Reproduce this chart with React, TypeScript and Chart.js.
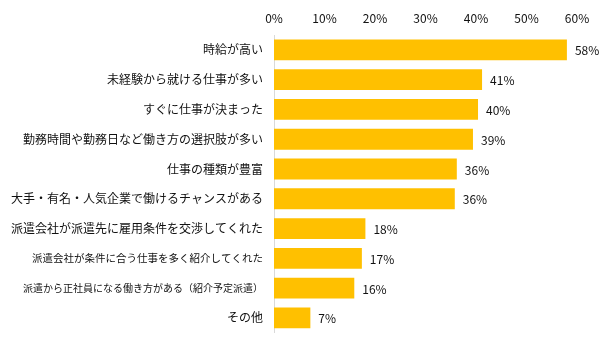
import React, { useEffect, useRef } from "react";
import { Chart, registerables } from "chart.js";

Chart.register(...registerables);

const categories = [
  "時給が高い",
  "未経験から就ける仕事が多い",
  "すぐに仕事が決まった",
  "勤務時間や勤務日など働き方の選択肢が多い",
  "仕事の種類が豊富",
  "大手・有名・人気企業で働けるチャンスがある",
  "派遣会社が派遣先に雇用条件を交渉してくれた",
  "派遣会社が条件に合う仕事を多く紹介してくれた",
  "派遣から正社員になる働き方がある（紹介予定派遣）",
  "その他",
];

const values = [58.0, 41.2, 40.4, 39.4, 36.2, 35.8, 18.1, 17.4, 15.9, 7.2];

const xTicks = [0, 10, 20, 30, 40, 50, 60];

const FONT = "'Noto Sans CJK JP', 'Noto Sans', sans-serif";

const valueLabels = {
  id: "valueLabels",
  afterDatasetsDraw(chart: any) {
    const ctx = chart.ctx;
    const meta = chart.getDatasetMeta(0);
    ctx.save();
    ctx.font = `12px ${FONT}`;
    ctx.fillStyle = "#111";
    ctx.textAlign = "left";
    ctx.textBaseline = "middle";
    meta.data.forEach((bar: any, i: number) => {
      const v = values[i];
      ctx.fillText(`${Math.round(v)}%`, bar.x + 8, bar.y + 1);
    });
    ctx.restore();
  },
};

export default function App() {
  const ref = useRef<HTMLCanvasElement | null>(null);

  useEffect(() => {
    document.body.style.margin = "0";
    if (!ref.current) return;
    const chart = new Chart(ref.current, {
      type: "bar",
      data: {
        labels: categories,
        datasets: [
          {
            data: values,
            backgroundColor: "#FFC000",
            borderWidth: 0,
            barPercentage: 0.7,
            categoryPercentage: 1,
          },
        ],
      },
      options: {
        indexAxis: "y",
        animation: false,
        responsive: false,
        maintainAspectRatio: false,
        layout: { padding: { left: 0, right: 28, top: 0, bottom: 16 } },
        plugins: {
          legend: { display: false },
          tooltip: { enabled: false },
        },
        scales: {
          x: {
            position: "top",
            min: 0,
            max: 60,
            afterBuildTicks: (scale: any) => {
              scale.ticks = xTicks.map((v) => ({ value: v }));
            },
            afterFit: (scale: any) => {
              scale.height = 35;
            },
            grid: { display: false, drawTicks: false },
            border: { display: false },
            ticks: {
              padding: 9,
              color: "#111",
              font: { family: FONT, size: 12 },
              callback: (v: any) => `${v}%`,
            },
          },
          y: {
            afterFit: (scale: any) => {
              scale.width = 274;
            },
            grid: { display: false, drawTicks: false },
            border: { display: true, color: "#d9d9d9", width: 1 },
            ticks: {
              padding: 11,
              color: "#111",
              autoSkip: false,
              font: (c: any) => ({
                family: FONT,
                size: c.index === 8 ? 10 : c.index === 7 ? 10.5 : 12,
              }),
            },
          },
        },
      },
      plugins: [valueLabels],
    });
    return () => chart.destroy();
  }, []);

  return (
    <div style={{ width: 605, height: 351 }}>
      <canvas ref={ref} width={605} height={351} style={{ display: "block" }} />
    </div>
  );
}
